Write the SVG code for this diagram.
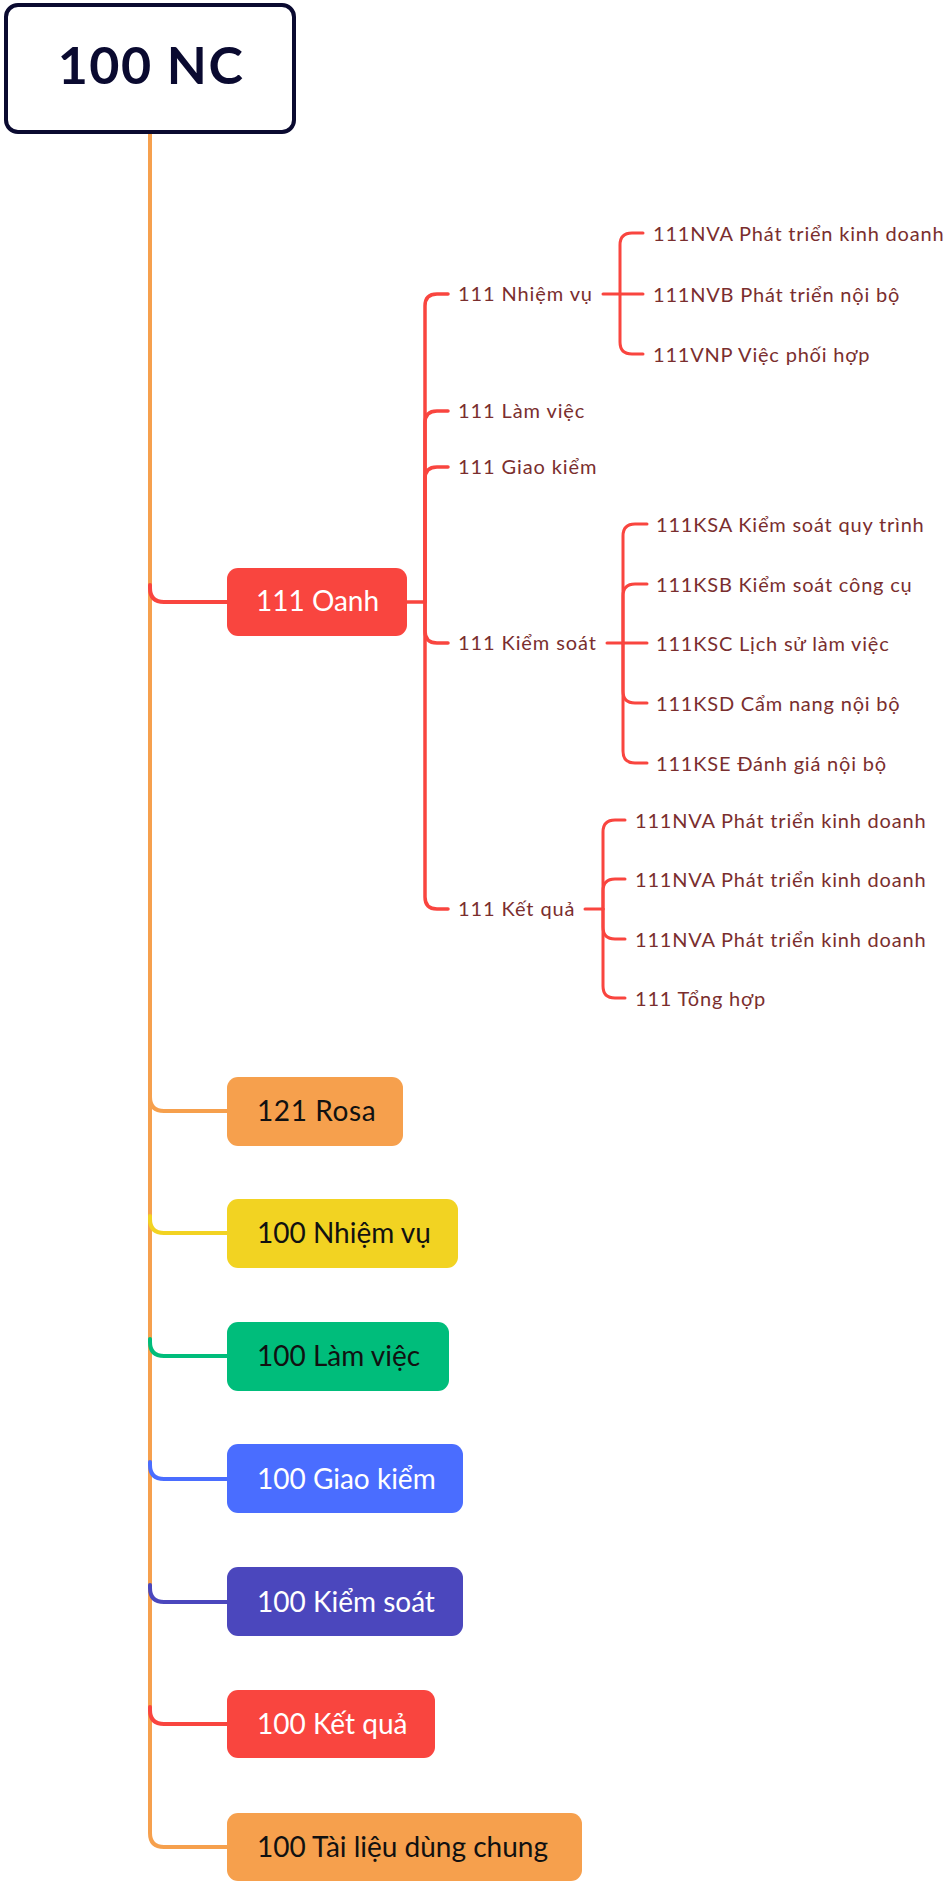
<svg xmlns="http://www.w3.org/2000/svg" width="949" height="1881" viewBox="0 0 949 1881">
<style>
.c{fill:none;stroke-linecap:round;stroke-linejoin:round}
.t{font-family:Lato,"Noto Sans",sans-serif}
.l2{font-size:20px;fill:#7a2e2e;letter-spacing:0.9px}
.l3{font-size:20px;fill:#7a2e2e;letter-spacing:0.8px}
.top{font-size:28px}
.red{stroke:#f9453f}
.or{stroke:#f6a04d}
</style>
<rect width="949" height="1881" fill="#ffffff"/>
<g id="connectors">
  <path class="c or" stroke-width="4" d="M150,133 V1833 Q150,1847 164,1847 H227"/>
  <path class="c red" stroke-width="4" d="M150,585 V588 Q150,602 164,602 H227"/>
  <path class="c or" stroke-width="4" d="M150,1094 V1097 Q150,1111 164,1111 H227"/>
  <path class="c" stroke="#f2d322" stroke-width="4" d="M150,1216 V1219 Q150,1233 164,1233 H227"/>
  <path class="c" stroke="#00bd7b" stroke-width="4" d="M150,1339 V1342 Q150,1356 164,1356 H227"/>
  <path class="c" stroke="#4a6dff" stroke-width="4" d="M150,1462 V1465 Q150,1479 164,1479 H227"/>
  <path class="c" stroke="#4b47bd" stroke-width="4" d="M150,1585 V1588 Q150,1602 164,1602 H227"/>
  <path class="c red" stroke-width="4" d="M150,1707 V1710 Q150,1724 164,1724 H227"/>
  <g class="c red" stroke-width="3.5">
    <path d="M407,602 H425"/>
    <path d="M425,602 V306 Q425,294 437,294 H448"/>
    <path d="M425,602 V423 Q425,411 437,411 H448"/>
    <path d="M425,602 V479 Q425,467 437,467 H448"/>
    <path d="M425,602 V631 Q425,643 437,643 H448"/>
    <path d="M425,602 V897 Q425,909 437,909 H448"/>
  </g>
  <g class="c red" stroke-width="3">
    <path d="M603,294 H643"/>
    <path d="M620,294 V245 Q620,233 632,233 H643"/>
    <path d="M620,294 V342 Q620,354 632,354 H643"/>
    <path d="M607,643 H647"/>
    <path d="M623,643 V536 Q623,524 635,524 H647"/>
    <path d="M623,643 V596 Q623,584 635,584 H647"/>
    <path d="M623,643 V691 Q623,703 635,703 H647"/>
    <path d="M623,643 V751 Q623,763 635,763 H647"/>
    <path d="M585,909 H603"/>
    <path d="M603,909 V832 Q603,820 615,820 H625"/>
    <path d="M603,909 V891 Q603,879 615,879 H625"/>
    <path d="M603,909 V927 Q603,939 615,939 H625"/>
    <path d="M603,909 V986 Q603,998 615,998 H625"/>
  </g>
</g>
<g id="root">
  <rect x="6" y="5" width="288" height="127" rx="12" fill="#ffffff" stroke="#0a0a30" stroke-width="4"/>
  <text class="t" x="151" y="84" text-anchor="middle" font-size="52" font-weight="bold" fill="#0a0a30" letter-spacing="1.5">100 NC</text>
</g>
<g id="n111-oanh">
  <rect x="227" y="568" width="180" height="68" rx="11" fill="#f9453f"/>
  <text class="t top" x="256" y="611" fill="#ffffff">111 Oanh</text>
</g>
<g id="n111-nhiemvu"><text class="t l2" x="458" y="301">111 Nhiệm vụ</text></g>
<g id="n111-lamviec"><text class="t l2" x="458" y="418">111 Làm việc</text></g>
<g id="n111-giaokiem"><text class="t l2" x="458" y="474">111 Giao kiểm</text></g>
<g id="n111-kiemsoat"><text class="t l2" x="458" y="650">111 Kiểm soát</text></g>
<g id="n111-ketqua"><text class="t l2" x="458" y="916">111 Kết quả</text></g>
<g id="n111nva"><text class="t l3" x="653" y="241">111NVA Phát triển kinh doanh</text></g>
<g id="n111nvb"><text class="t l3" x="653" y="302">111NVB Phát triển nội bộ</text></g>
<g id="n111vnp"><text class="t l3" x="653" y="362">111VNP Việc phối hợp</text></g>
<g id="n111ksa"><text class="t l3" x="656" y="532">111KSA Kiểm soát quy trình</text></g>
<g id="n111ksb"><text class="t l3" x="656" y="592">111KSB Kiểm soát công cụ</text></g>
<g id="n111ksc"><text class="t l3" x="656" y="651">111KSC Lịch sử làm việc</text></g>
<g id="n111ksd"><text class="t l3" x="656" y="711">111KSD Cẩm nang nội bộ</text></g>
<g id="n111kse"><text class="t l3" x="656" y="771">111KSE Đánh giá nội bộ</text></g>
<g id="n111kq1"><text class="t l3" x="635" y="828">111NVA Phát triển kinh doanh</text></g>
<g id="n111kq2"><text class="t l3" x="635" y="887">111NVA Phát triển kinh doanh</text></g>
<g id="n111kq3"><text class="t l3" x="635" y="947">111NVA Phát triển kinh doanh</text></g>
<g id="n111tonghop"><text class="t l3" x="635" y="1006">111 Tổng hợp</text></g>
<g id="n121-rosa">
  <rect x="227" y="1077" width="176" height="69" rx="11" fill="#f6a04d"/>
  <text class="t top" x="257" y="1121" fill="#111111" letter-spacing="0.6">121 Rosa</text>
</g>
<g id="n100-nhiemvu">
  <rect x="227" y="1199" width="231" height="69" rx="11" fill="#f2d322"/>
  <text class="t top" x="257" y="1243" fill="#111111">100 Nhiệm vụ</text>
</g>
<g id="n100-lamviec">
  <rect x="227" y="1322" width="222" height="69" rx="11" fill="#00bd7b"/>
  <text class="t top" x="257" y="1366" fill="#111111">100 Làm việc</text>
</g>
<g id="n100-giaokiem">
  <rect x="227" y="1444" width="236" height="69" rx="11" fill="#4a6dff"/>
  <text class="t top" x="257" y="1489" fill="#ffffff">100 Giao kiểm</text>
</g>
<g id="n100-kiemsoat">
  <rect x="227" y="1567" width="236" height="69" rx="11" fill="#4b47bd"/>
  <text class="t top" x="257" y="1612" fill="#ffffff">100 Kiểm soát</text>
</g>
<g id="n100-ketqua">
  <rect x="227" y="1690" width="208" height="68" rx="11" fill="#f9453f"/>
  <text class="t top" x="257" y="1734" fill="#ffffff">100 Kết quả</text>
</g>
<g id="n100-tailieu">
  <rect x="227" y="1813" width="355" height="68" rx="11" fill="#f6a04d"/>
  <text class="t top" x="257" y="1857" fill="#111111">100 Tài liệu dùng chung</text>
</g>
</svg>
